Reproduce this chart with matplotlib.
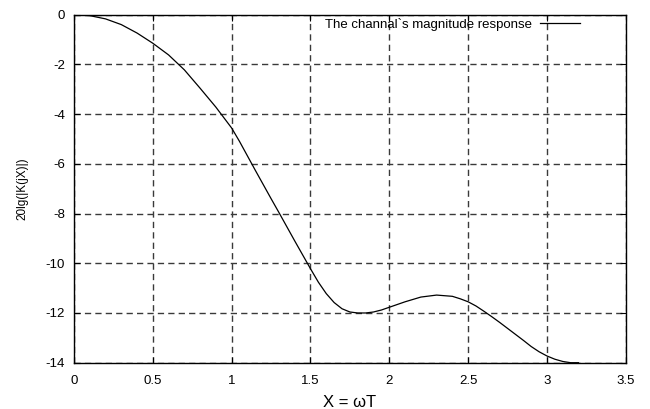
import matplotlib
matplotlib.use("Agg")
import matplotlib.pyplot as plt

plt.rcParams['font.family'] = ['Liberation Sans', 'DejaVu Sans']
plt.rcParams['axes.unicode_minus'] = False

x_vals = [0.0, 0.1, 0.2, 0.3, 0.4, 0.5, 0.6, 0.7, 0.8, 0.9, 1.0, 1.05, 1.1,
          1.15, 1.2, 1.25, 1.3, 1.35, 1.4, 1.45, 1.5, 1.55, 1.6, 1.65, 1.7,
          1.75, 1.8, 1.85, 1.9, 1.95, 2.0, 2.1, 2.2, 2.3, 2.4, 2.45, 2.5,
          2.55, 2.6, 2.65, 2.7, 2.75, 2.8, 2.85, 2.9, 2.95, 3.0, 3.05, 3.1,
          3.15, 3.2]
mag_db = [0.0, -0.04, -0.17, -0.4, -0.74, -1.15, -1.62, -2.22, -2.96, -3.72,
          -4.56, -5.1, -5.68, -6.26, -6.83, -7.4, -7.96, -8.53, -9.1, -9.66,
          -10.22, -10.76, -11.22, -11.58, -11.83, -11.96, -12.0, -12.0,
          -11.96, -11.88, -11.77, -11.55, -11.36, -11.28, -11.33, -11.43,
          -11.55, -11.72, -11.93, -12.15, -12.38, -12.62, -12.86, -13.1,
          -13.35, -13.56, -13.73, -13.86, -13.95, -14.0, -14.0]

x_ticks = [0, 0.5, 1, 1.5, 2, 2.5, 3, 3.5]
y_ticks = [0, -2, -4, -6, -8, -10, -12, -14]

fig = plt.figure(figsize=(6.5, 4.09), dpi=100)
ax = fig.add_axes([0.1138, 0.1132, 0.849, 0.851])

ax.plot(x_vals, mag_db, color='black', linewidth=0.9,
        label="The channal`s magnitude response")

ax.set_xlim(0, 3.5)
ax.set_ylim(-14, 0)
ax.set_xticks(x_ticks)
ax.set_xticklabels([str(t) for t in x_ticks])
ax.set_yticks(y_ticks)
ax.tick_params(direction='in', top=True, right=True, labelsize=9.5, length=4)
ax.tick_params(axis='x', pad=8.5)
ax.tick_params(axis='y', pad=6.5)
ax.grid(True, color='#3a3a3a', linestyle=(0, (4.5, 3)), linewidth=1.0)
for s in ax.spines.values():
    s.set_linewidth(1.0)

ax.set_ylabel("20lg(|K(jX)|)", fontsize=8.5, labelpad=12)
ax.set_xlabel("X = ωT", fontsize=12, labelpad=6)

leg = ax.legend(loc='upper right', frameon=False, markerfirst=False,
                fontsize=9.5, handlelength=3.0, handletextpad=0.6,
                bbox_to_anchor=(0.9286, 1.009), borderaxespad=0.1)

fig.savefig("out.png", dpi=100)
